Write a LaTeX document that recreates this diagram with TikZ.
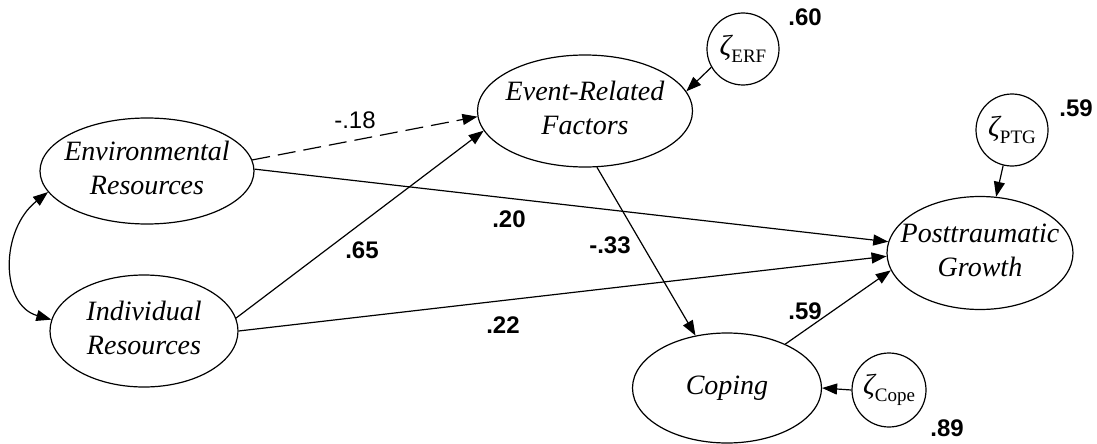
\documentclass[tikz,border=0pt]{standalone}
\usepackage{fontspec}
\setmainfont{Liberation Serif}
\newfontfamily\labfont{Liberation Sans}
\usetikzlibrary{shapes.geometric,arrows.meta}
\newcommand{\twolines}[2]{\makebox[0pt]{\begin{tabular}{@{}c@{}}#1\\#2\end{tabular}}}
\newcommand{\zet}[1]{{\itshape ζ}\raisebox{-7pt}{\fontsize{19}{19}\selectfont #1}}
\begin{document}
\begin{tikzpicture}[x=1pt,y=-1pt,
  lat/.style={ellipse,draw,line width=1.2pt,inner sep=0pt,font=\fontsize{28}{34}\selectfont\itshape},
  err/.style={circle,draw,line width=1.2pt,minimum size=72pt,inner sep=0pt,font=\fontsize{29}{30}\selectfont},
  pth/.style={line width=1.2pt,-{Triangle[length=15pt,width=11pt]}},
  coef/.style={inner sep=0pt,font=\fontsize{24}{24}\selectfont\labfont\bfseries},
  coefl/.style={inner sep=0pt,font=\fontsize{24}{24}\selectfont\labfont},
  ]
\useasboundingbox (0,0) rectangle (1097,444);
% latent variables
\node[lat,minimum width=214pt,minimum height=106pt] (env) at (147,171) {\twolines{Environmental}{Resources}};
\node[lat,minimum width=188pt,minimum height=112pt] (ind) at (144,331) {\twolines{Individual}{Resources}};
\node[lat,minimum width=215pt,minimum height=112pt] (erf) at (585,111) {\twolines{Event-Related}{Factors}};
\node[lat,minimum width=186pt,minimum height=113pt] (ptg) at (980,253) {\twolines{Posttraumatic}{Growth}};
\node[lat,minimum width=189pt,minimum height=110pt] (cope) at (727,388) {\makebox[0pt]{Coping}};
% disturbances
\node[err] (zerf) at (743,49) {\makebox[0pt]{\zet{ERF}}};
\node[err] (zptg) at (1012,130) {\makebox[0pt]{\zet{PTG}}};
\node[err,minimum size=74pt] (zcope) at (889,390) {\makebox[0pt]{\zet{Cope}}};
% paths
\draw[pth,dash pattern=on 18pt off 8pt] (env.6) -- (erf.183.7);
\draw[pth] (env.1.6) -- (ptg.173.2);
\draw[pth] (ind.8.7) -- (erf.191.5);
\draw[pth] (ind.0.6) -- (ptg.182.5);
\draw[pth] (erf.-78) -- (cope.121);
\draw[pth] (cope.37.8) -- (ptg.191.5);
\draw[pth] (zerf.210) -- (erf.11.9);
\draw[pth] (zptg.256) -- (ptg.74);
\draw[pth] (zcope.west) -- (cope.east);
\draw[line width=1.2pt,{Triangle[length=15pt,width=11pt]}-{Triangle[length=15pt,width=11pt]}]
  (env.192.8) .. controls (0,230) and (0,305) .. (ind.173);
% coefficients
\node[coefl] (c1) at (355,120) {-.18};
\node[coef] (c2) at (509,219) {.20};
\node[coef] (c3) at (362,250) {.65};
\node[coef] (c4) at (610,245) {-.33};
\node[coef] (c5) at (503,325) {.22};
\node[coef] (c6) at (805,311) {.59};
\node[coef] (c7) at (805,17) {.60};
\node[coef] (c8) at (1076,108) {.59};
\node[coef] (c9) at (947,428) {.89};
\end{tikzpicture}
\end{document}
